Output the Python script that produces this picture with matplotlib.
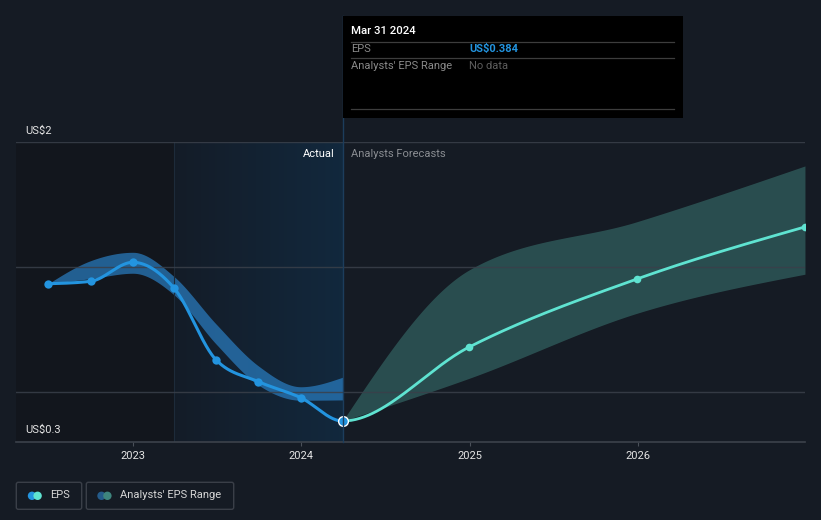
import numpy as np
import pandas as pd
import matplotlib
matplotlib.use("Agg")
import matplotlib.pyplot as plt
import matplotlib.dates as mdates
from matplotlib.patches import FancyBboxPatch, Rectangle, Circle

plt.rcParams['font.family'] = ['Roboto', 'DejaVu Sans']

# ---------------- data ----------------
eps_dates = ["2022-06-30", "2022-09-30", "2022-12-31", "2023-03-31",
             "2023-06-30", "2023-09-30", "2023-12-31", "2024-03-31"]
eps_values = [1.249, 1.264, 1.384, 1.220, 0.769, 0.632, 0.531, 0.384]

hist_high = [1.249, 1.394, 1.447, 1.293, 0.995, 0.731, 0.600, 0.660]
hist_low = [1.249, 1.281, 1.315, 1.178, 0.869, 0.611, 0.515, 0.517]

fc_dates = ["2024-03-31", "2024-12-31", "2025-12-31", "2026-12-31"]
fc_values = [0.384, 0.850, 1.279, 1.607]
fc_high = [0.384, 1.336, 1.640, 1.991]
fc_low = [0.384, 0.653, 1.063, 1.309]

year_ticks = ["2023", "2024", "2025", "2026"]
y_min, y_max = 0.25, 2.14
grid_values = [2.14, 1.355, 0.565]
y_label_top, y_label_bottom = "US$2", "US$0.3"
actual_start = "2023-03-31"
tooltip_date = "Mar 31 2024"
tooltip_eps = "US$0.384"

# ---------------- styling ----------------
W, H = 821, 520
BG = "#151b24"
BLUE = "#2394df"
TEAL = "#5fe3d1"
GRID = "#3a404a"

def monotone(x, y, n=60):
    x = np.asarray(x, float); y = np.asarray(y, float)
    m = len(x)
    h = np.diff(x); s = np.diff(y) / h
    t = np.zeros(m)
    for i in range(1, m - 1):
        p = (s[i-1] * h[i] + s[i] * h[i-1]) / (h[i-1] + h[i])
        t[i] = (np.sign(s[i-1]) + np.sign(s[i])) * min(abs(s[i-1]), abs(s[i]), 0.5 * abs(p))
    if m > 2:
        t[0] = (3 * s[0] - t[1]) / 2
        t[-1] = (3 * s[-1] - t[-2]) / 2
    else:
        t[:] = s[0]
    xs, ys = [], []
    for i in range(m - 1):
        u = np.linspace(0, 1, n)
        dx = h[i]
        h00 = 2*u**3 - 3*u**2 + 1
        h10 = u**3 - 2*u**2 + u
        h01 = -2*u**3 + 3*u**2
        h11 = u**3 - u**2
        xs.append(x[i] + u * dx)
        ys.append(h00*y[i] + h10*dx*t[i] + h01*y[i+1] + h11*dx*t[i+1])
    return np.concatenate(xs), np.concatenate(ys)

d_eps = mdates.datestr2num(eps_dates)
d_fc = mdates.datestr2num(fc_dates)
d_ticks = mdates.datestr2num([f"{y}-01-01" for y in year_ticks])
d_actual_start = mdates.datestr2num(actual_start)
d_now = d_eps[-1]

fig = plt.figure(figsize=(W/100, H/100), dpi=100, facecolor=BG)

ax_left, ax_right, ax_top, ax_bottom = 16, 805, 142.3, 442.3
ax = fig.add_axes([ax_left/W, 1 - ax_bottom/H, (ax_right-ax_left)/W, (ax_bottom-ax_top)/H])
ax.set_facecolor(BG)
pxday = (637.5 - 133.3) / (d_ticks[3] - d_ticks[0])
xl = d_ticks[0] - (133.3 - ax_left) / pxday
xr = d_ticks[0] + (ax_right - 133.3) / pxday
ax.set_xlim(xl, xr)
ax.set_ylim(y_min, y_max)
for sp in ax.spines.values():
    sp.set_visible(False)

# background regions
ax.axvspan(xl, d_actual_start, color="#12161d", zorder=0.2, lw=0)
grad = np.linspace(0, 1, 256)[None, :, None]
c0 = np.array([0.078, 0.110, 0.155]); c1 = np.array([0.070, 0.158, 0.240])
img = c0 + (c1 - c0) * grad
ax.imshow(img, extent=[d_actual_start, d_now, y_min, y_max], aspect='auto', zorder=0.3, interpolation='bilinear')

# history range band
bx, bu = monotone(d_eps, hist_high)
_, bl = monotone(d_eps, hist_low)
ax.fill_between(bx, bl, bu, color="#2a7fc4", alpha=0.7, lw=0, zorder=1)

# forecast range band
fx, fu = monotone(d_fc, fc_high)
_, fl = monotone(d_fc, fc_low)
ax.fill_between(fx, fl, fu, color="#4fa89c", alpha=0.36, lw=0, zorder=1)

# grid over bands
ax.axvline(d_actual_start, color="#1d2b3a", lw=0.8, zorder=1.5)
for g in grid_values:
    ax.axhline(g, color=GRID, lw=1.0, alpha=0.85, zorder=1.6)
ax.axhline(y_min, color="#3c424b", lw=1.2, zorder=1.7, clip_on=False)

# EPS line (one series, split colour at now)
all_d = np.concatenate([d_eps, d_fc[1:]])
all_v = np.concatenate([eps_values, fc_values[1:]])
ex, ey = monotone(all_d, all_v)
m_hist = ex <= d_now + 1e-9
m_fc = ex >= d_now - 1e-9
ax.plot(ex[m_hist], ey[m_hist], color=BLUE, lw=2.2, zorder=3, solid_capstyle='round')
ax.plot(ex[m_fc], ey[m_fc], color=TEAL, lw=2.0, zorder=3, solid_capstyle='round')
ax.plot(d_eps[:-1], eps_values[:-1], 'o', color=BLUE, ms=6, zorder=4, mec='none')
ax.plot(d_fc[1:], fc_values[1:], 'o', color=TEAL, ms=5.5, zorder=4, mec='none')
ax.plot([d_eps[-1]], [eps_values[-1]], 'o', color=BLUE, ms=7, mec='white', mew=1.0, zorder=5)

ax.set_yticks([])
ax.set_xticks(d_ticks)
ax.set_xticklabels(year_ticks)
ax.tick_params(axis='x', length=3, width=0.8, color="#4a5059", pad=3,
               labelsize=8, labelcolor="#e4e4e4")

# ---------------- overlay in pixel coords ----------------
ov = fig.add_axes([0, 0, 1, 1], facecolor='none')
ov.set_xlim(0, W); ov.set_ylim(H, 0); ov.axis('off')

x_now = ax_left + (d_now - xl) * pxday
ov.plot([x_now, x_now], [16, ax_bottom], color="#1c3d5c", lw=1.0, zorder=1)

ov.text(25, 131, y_label_top, color="#e4e4e4", fontsize=8, va='center', ha='left')
ov.text(25, 430, y_label_bottom, color="#e4e4e4", fontsize=8, va='center', ha='left')
ov.text(334.5, 154, "Actual", color="#ffffff", fontsize=8, va='center', ha='right')
ov.text(351, 154, "Analysts Forecasts", color="#8a8d92", fontsize=8, va='center', ha='left')

# tooltip
ov.add_patch(Rectangle((342.7, 16), 340, 102.3, facecolor="#000000", edgecolor='none', zorder=2))
ov.text(351, 31, tooltip_date, color="#ffffff", fontsize=8.2, va='center', ha='left', zorder=3, fontweight='medium')
for yy in (41.7, 58.3, 109):
    ov.plot([351, 674], [yy, yy], color="#3d3d3d", lw=0.9, zorder=3)
ov.text(351, 48.5, "EPS", color="#8a8a8a", fontsize=8, va='center', ha='left', zorder=3)
ov.text(469, 48.5, tooltip_eps, color=BLUE, fontsize=8, va='center', ha='left', zorder=3, fontweight='bold')
ov.text(351, 66, "Analysts' EPS Range", color="#8a8a8a", fontsize=8, va='center', ha='left', zorder=3)
ov.text(469, 66, "No data", color="#5e5e5e", fontsize=8, va='center', ha='left', zorder=3)

# legend
for (x0, x1) in ((16.3, 81.7), (86.3, 233.7)):
    ov.add_patch(FancyBboxPatch((x0, 482.3), x1 - x0, 27, boxstyle="round,pad=0,rounding_size=2",
                                facecolor='none', edgecolor="#3a3f48", lw=1.0))
ov.add_patch(Circle((32, 495.8), 4.2, color=BLUE, lw=0))
ov.add_patch(Circle((37.6, 495.8), 4.2, color=TEAL, lw=0))
ov.text(50, 495.5, "EPS", color="#d6d6d6", fontsize=8, va='center', ha='left')
ov.add_patch(Circle((101.5, 495.8), 4.2, color="#245b8a", lw=0))
ov.add_patch(Circle((107.4, 495.8), 4.2, color="#3e857e", lw=0))
ov.text(120.3, 495.5, "Analysts' EPS Range", color="#d6d6d6", fontsize=8, va='center', ha='left')

fig.savefig("out.png", dpi=100, facecolor=BG)
